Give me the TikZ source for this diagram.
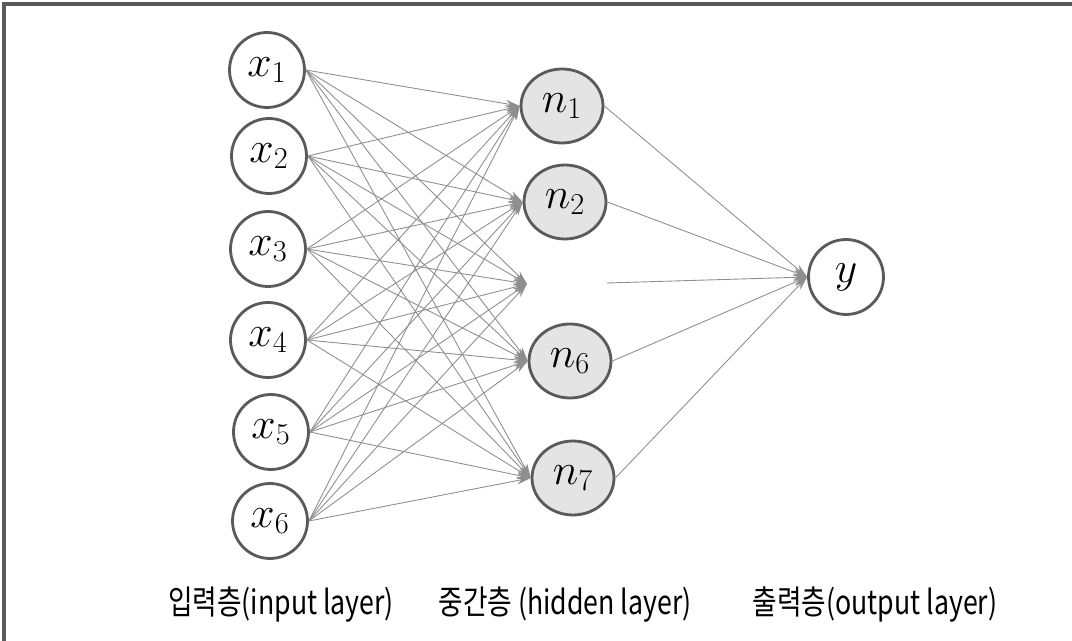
\documentclass[tikz,border=0pt]{standalone}
\usepackage{fontspec}
\newfontfamily\krfont{Noto Sans CJK KR}
\usepackage{xcolor}
\usepackage{tikz}
\usetikzlibrary{positioning}
\usetikzlibrary{arrows.meta}
\usetikzlibrary{shapes}

\definecolor{rimgray}{HTML}{5A5A5A}
\definecolor{linkgray}{HTML}{8E8E8E}
\definecolor{hidfill}{HTML}{E4E4E4}

\begin{document}
\begin{tikzpicture}[x = 0.02cm, y = -0.02cm,
                    input/.style = { circle, draw = rimgray, line width = 1.6pt, fill = white, minimum size = 1.5cm, inner sep = 0pt, font = \fontsize{26}{30}\selectfont },
                    hidden/.style = { ellipse, draw = rimgray, line width = 1.6pt, fill = hidfill, minimum width = 1.64cm, minimum height = 1.48cm, inner sep = 0pt, font = \fontsize{26}{30}\selectfont },
                    output/.style = { input },
                    link/.style = { draw = linkgray, line width = 0.5pt, -{Stealth[length = 8pt, width = 4.5pt]} },
                    caption/.style = { font = \krfont\fontsize{19}{22}\selectfont, inner sep = 0pt },
                    frame/.style = { draw = rimgray, line width = 1.8pt },
                    ]
    \useasboundingbox (0,0) rectangle (1072,641);
    \draw[frame] (4,641) -- (4,4) -- (1072,4);

    % input layer
    \node[input] (X1) at (267,70) {$x_1$};
    \node[input] (X2) at (269,156) {$x_2$};
    \node[input] (X3) at (268,249) {$x_3$};
    \node[input] (X4) at (268,340) {$x_4$};
    \node[input] (X5) at (271,432) {$x_5$};
    \node[input] (X6) at (270,521) {$x_6$};

    % hidden layer (n3 .. n5 left out)
    \node[hidden] (N1) at (562,106) {$n_1$};
    \node[hidden] (N2) at (565,202) {$n_2$};
    \coordinate (GapIn) at (527,284);
    \coordinate (GapOut) at (607,283);
    \node[hidden] (N6) at (570,361) {$n_6$};
    \node[hidden] (N7) at (573,478) {$n_7$};

    % output layer
    \node[output] (Y) at (846,277) {$y$};

    \foreach \i in {1,...,6}
        \foreach \h in {N1.west,N2.west,GapIn,N6.west,N7.west}
            \draw[link] (X\i.east) -- (\h);
    \foreach \h in {N1.east,N2.east,GapOut,N6.east,N7.east}
        \draw[link] (\h) -- (Y.west);

    \node[caption] (CapIn) at (281,605) {\scalebox{0.8}[1]{입력층(input layer)}};
    \node[caption] (CapHid) at (565,605) {\scalebox{0.8}[1]{중간층 (hidden layer)}};
    \node[caption] (CapOut) at (875,605) {\scalebox{0.8}[1]{출력층(output layer)}};
\end{tikzpicture}
\end{document}
